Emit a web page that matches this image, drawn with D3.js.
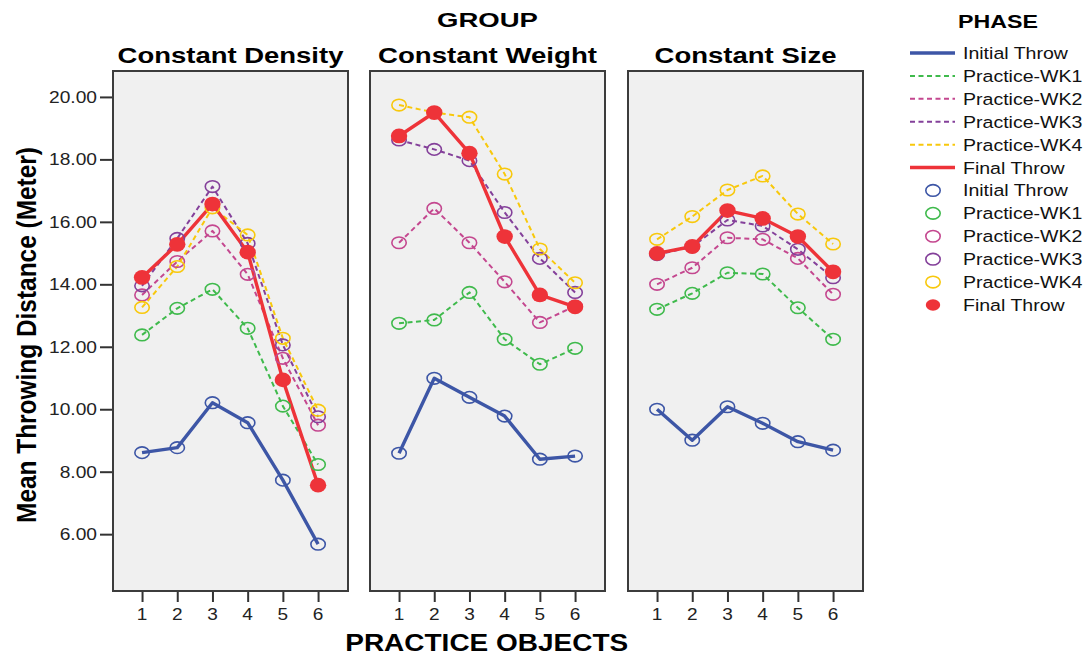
<!DOCTYPE html>
<html>
<head>
<meta charset="utf-8">
<script src="https://cdn.jsdelivr.net/npm/d3@7"></script>
<style>
  html, body { margin: 0; padding: 0; background: #ffffff; }
  svg { display: block; }
</style>
</head>
<body>
<svg id="chart" width="1091" height="656"></svg>
<script>
// ---------------- DATA ----------------
const categories = [1, 2, 3, 4, 5, 6];
const groups = ["Constant Density", "Constant Weight", "Constant Size"];
const phases = ["Initial Throw", "Practice-WK1", "Practice-WK2", "Practice-WK3", "Practice-WK4", "Final Throw"];
const yTicks = [6, 8, 10, 12, 14, 16, 18, 20];

// values[group][phase] = 6 values for practice objects 1..6
const constantDensity = {
  "Initial Throw": [8.61, 8.77, 10.21, 9.57, 7.73, 5.68],
  "Practice-WK1":  [12.38, 13.23, 13.84, 12.59, 10.10, 8.23],
  "Practice-WK2":  [13.66, 14.73, 15.71, 14.32, 11.63, 9.49],
  "Practice-WK3":  [13.95, 15.47, 17.13, 15.31, 12.06, 9.76],
  "Practice-WK4":  [13.26, 14.57, 16.45, 15.58, 12.27, 9.97],
  "Final Throw":   [14.22, 15.28, 16.57, 15.03, 10.94, 7.57]
};
const constantWeight = {
  "Initial Throw": [8.59, 10.99, 10.38, 9.78, 8.40, 8.50],
  "Practice-WK1":  [12.75, 12.86, 13.74, 12.24, 11.44, 11.95],
  "Practice-WK2":  [15.33, 16.43, 15.33, 14.08, 12.78, 13.30],
  "Practice-WK3":  [18.62, 18.32, 17.96, 16.30, 14.83, 13.74],
  "Practice-WK4":  [19.74, 19.50, 19.35, 17.53, 15.13, 14.05],
  "Final Throw":   [18.75, 19.50, 18.20, 15.53, 13.66, 13.28]
};
const constantSize = {
  "Initial Throw": [10.00, 9.01, 10.08, 9.55, 8.96, 8.69],
  "Practice-WK1":  [13.20, 13.71, 14.37, 14.33, 13.25, 12.24],
  "Practice-WK2":  [14.00, 14.53, 15.49, 15.44, 14.83, 13.68],
  "Practice-WK3":  [14.95, 15.20, 16.06, 15.87, 15.12, 14.21],
  "Practice-WK4":  [15.44, 16.17, 17.02, 17.47, 16.25, 15.29],
  "Final Throw":   [14.99, 15.21, 16.36, 16.11, 15.53, 14.40]
};
const groupData = [constantDensity, constantWeight, constantSize];

// ---------------- STYLE ----------------
const phaseStyle = {
  "Initial Throw": { color: "#3d56a6", width: 3.4, dash: null,    filled: false },
  "Practice-WK1":  { color: "#3fba4c", width: 2,   dash: "5,3.5", filled: false },
  "Practice-WK2":  { color: "#c4478f", width: 2,   dash: "5,3.5", filled: false },
  "Practice-WK3":  { color: "#84409a", width: 2,   dash: "5,3.5", filled: false },
  "Practice-WK4":  { color: "#f8c80c", width: 2,   dash: "5,3.5", filled: false },
  "Final Throw":   { color: "#ee3339", width: 3.4, dash: null,    filled: true }
};

const svg = d3.select("#chart");
const SANS = "'Liberation Sans', Arial, sans-serif";

function addText(parent, str, x, y, o) {
  const g = parent.append("g").attr("transform", `translate(${x},${y})`);
  const t = g.append("text")
    .text(str)
    .attr("font-family", o.family || SANS)
    .attr("font-size", o.size)
    .attr("font-weight", o.weight || "normal")
    .attr("fill", o.fill || "#000")
    .attr("text-anchor", o.anchor || "start");
  let sx = o.sx || 1;
  if (o.width) sx = o.width / t.node().getComputedTextLength();
  t.attr("transform", `scale(${sx},1)`);
  return t;
}

// ---------------- LAYOUT ----------------
const panelLeft = [113, 370, 628];
const panelW = 235, panelTop = 71, panelBottom = 591;

const y = d3.scaleLinear().domain([4.18, 20.83]).range([panelBottom, panelTop]);

panelLeft.forEach((px, gi) => {
  const x = d3.scaleLinear().domain([0.175, 6.85]).range([px, px + panelW]);
  const g = svg.append("g");

  g.append("rect")
    .attr("x", px).attr("y", panelTop)
    .attr("width", panelW).attr("height", panelBottom - panelTop)
    .attr("fill", "#f0f0f0")
    .attr("stroke", "#3c3c3c").attr("stroke-width", 2);

  // x axis
  const xAxis = g.append("g").attr("transform", `translate(0,${panelBottom + 1})`)
    .call(d3.axisBottom(x).tickValues(categories).tickSize(10).tickFormat(() => ""));
  xAxis.select(".domain").remove();
  xAxis.selectAll(".tick line").attr("stroke", "#333").attr("stroke-width", 2);
  categories.forEach(c => addText(g, String(c), x(c), 620, { size: 17, anchor: "middle", fill: "#222", sx: 1.12 }));

  // y axis on first panel
  if (gi === 0) {
    const yAxis = g.append("g").attr("transform", `translate(${px - 1},0)`)
      .call(d3.axisLeft(y).tickValues(yTicks).tickSize(12).tickFormat(() => ""));
    yAxis.select(".domain").remove();
    yAxis.selectAll(".tick line").attr("stroke", "#333").attr("stroke-width", 2);
    yTicks.forEach(v => addText(g, d3.format(".2f")(v), 97, y(v) + 6, { size: 17, anchor: "end", fill: "#222", sx: 1.13 }));
  }

  // panel title
  addText(g, groups[gi], px + panelW / 2, 63, { size: 22, weight: "bold", anchor: "middle",
    width: [226, 219, 182][gi] });

  const data = groupData[gi];
  const line = d3.line().x((d, i) => x(categories[i])).y(d => y(d));

  const plot = g.append("g");
  phases.forEach(p => {
    const s = phaseStyle[p];
    plot.append("path")
      .datum(data[p])
      .attr("d", line)
      .attr("fill", "none")
      .attr("stroke", s.color)
      .attr("stroke-width", s.width)
      .attr("stroke-dasharray", s.dash)
      .attr("stroke-linejoin", "round");
  });
  phases.forEach(p => {
    const s = phaseStyle[p];
    plot.selectAll(null).data(data[p]).enter().append("ellipse")
      .attr("cx", (d, i) => x(categories[i]))
      .attr("cy", d => y(d))
      .attr("rx", s.filled ? 8.2 : 7.2)
      .attr("ry", s.filled ? 7.4 : 5.8)
      .attr("fill", s.filled ? s.color : "none")
      .attr("stroke", s.color)
      .attr("stroke-width", s.filled ? 0 : 1.6);
  });
});

// titles
addText(svg, "GROUP", 487.5, 27, { size: 20, weight: "bold", anchor: "middle", width: 101 });
addText(svg, "PRACTICE OBJECTS", 486.7, 650.5, { size: 23, weight: "bold", anchor: "middle", width: 283 });

// y label (rotated)
{
  const g = svg.append("g").attr("transform", `translate(35.5,335) rotate(-90)`);
  const t = g.append("text").text("Mean Throwing Distance (Meter)")
    .attr("font-family", SANS).attr("font-size", 22).attr("font-weight", "bold")
    .attr("text-anchor", "middle").attr("fill", "#000");
  const sx = 376 / t.node().getComputedTextLength();
  t.attr("transform", `scale(${sx},1.25)`);
}

// ---------------- LEGEND ----------------
const legend = svg.append("g");
addText(legend, "PHASE", 998, 28, { size: 19, weight: "bold", anchor: "middle", width: 80 });
const legRowY = d3.scaleLinear().domain([0, 11]).range([53, 305]);
phases.forEach((p, i) => {
  const s = phaseStyle[p];
  const cy = legRowY(i);
  legend.append("line")
    .attr("x1", 910).attr("x2", 955).attr("y1", cy).attr("y2", cy)
    .attr("stroke", s.color).attr("stroke-width", s.dash ? 2 : 3.4)
    .attr("stroke-dasharray", s.dash);
  addText(legend, p, 963, cy + 6, { size: 17, fill: "#111", sx: 1.15 });
});
phases.forEach((p, i) => {
  const s = phaseStyle[p];
  const cy = legRowY(i + 6);
  legend.append("ellipse")
    .attr("cx", 933).attr("cy", cy)
    .attr("rx", 7.2).attr("ry", 5.8)
    .attr("fill", s.filled ? s.color : "none")
    .attr("stroke", s.color).attr("stroke-width", s.filled ? 0 : 1.6);
  addText(legend, p, 963, cy + 6, { size: 17, fill: "#111", sx: 1.15 });
});
</script>
</body>
</html>
